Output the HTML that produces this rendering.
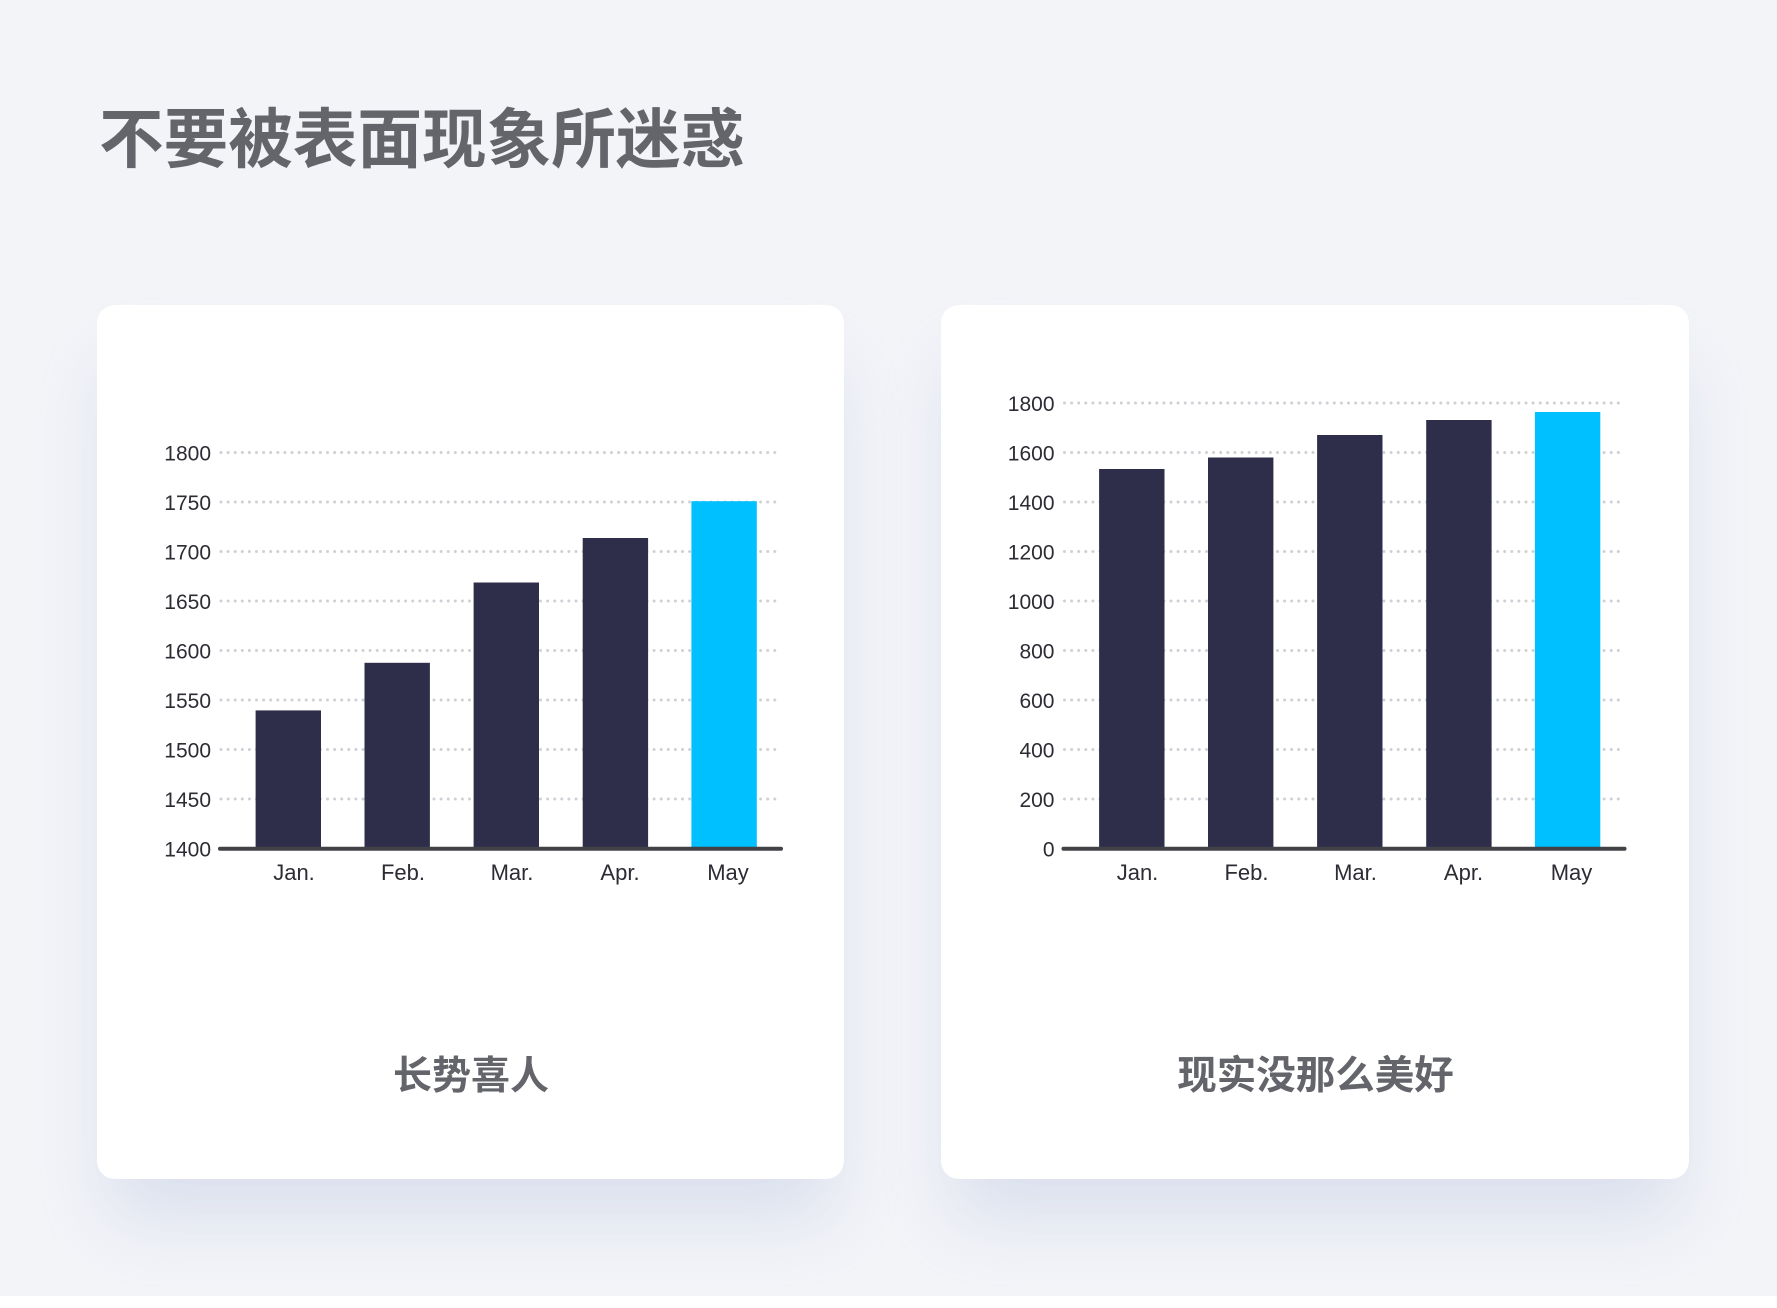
<!DOCTYPE html>
<html>
<head>
<meta charset="utf-8">
<style>
html,body{margin:0;padding:0;}
body{width:1777px;height:1308px;position:relative;overflow:hidden;background:#ffffff;}
.bg{position:absolute;left:0;top:0;width:1777px;height:1296px;background:#f3f4f8;}
.card{position:absolute;top:305px;height:874px;background:#ffffff;border-radius:18px;
box-shadow:0 50px 70px -12px rgba(205,212,232,0.65);}
svg{position:absolute;left:0;top:0;}
</style>
</head>
<body>
<div class="bg"></div>
<div class="card" style="left:97px;width:747px;"></div>
<div class="card" style="left:941px;width:748px;"></div>
<svg width="1777" height="1308" viewBox="0 0 1777 1308" xmlns="http://www.w3.org/2000/svg">
  <text x="99" y="162" font-family="'Liberation Sans','Noto Sans CJK SC',sans-serif" font-weight="bold" font-size="65" fill="#63656b" textLength="646" lengthAdjust="spacingAndGlyphs">不要被表面现象所迷惑</text>

  <!-- LEFT CHART -->
  <g stroke="#cfd0d5" stroke-width="3" stroke-linecap="round" stroke-dasharray="0 7.1">
    <line x1="221" y1="452.5" x2="781" y2="452.5"/>
    <line x1="221" y1="502" x2="781" y2="502"/>
    <line x1="221" y1="551.5" x2="781" y2="551.5"/>
    <line x1="221" y1="601" x2="781" y2="601"/>
    <line x1="221" y1="650.5" x2="781" y2="650.5"/>
    <line x1="221" y1="700" x2="781" y2="700"/>
    <line x1="221" y1="749.5" x2="781" y2="749.5"/>
    <line x1="221" y1="799" x2="781" y2="799"/>
  </g>
  <g fill="#2f2e4a">
    <rect x="255.6" y="710.4" width="65.4" height="138.6"/>
    <rect x="364.5" y="662.8" width="65.4" height="186.2"/>
    <rect x="473.6" y="582.5" width="65.4" height="266.5"/>
    <rect x="582.7" y="538" width="65.4" height="311"/>
  </g>
  <rect x="691.4" y="501.2" width="65.4" height="347.8" fill="#00c0ff"/>
  <line x1="220" y1="848.7" x2="781" y2="848.7" stroke="#434347" stroke-width="4" stroke-linecap="round"/>
  <g font-family="'Liberation Sans',sans-serif" font-size="21" fill="#2c2c34" text-anchor="end">
    <text x="211" y="460.5">1800</text>
    <text x="211" y="510">1750</text>
    <text x="211" y="559.5">1700</text>
    <text x="211" y="609">1650</text>
    <text x="211" y="658.5">1600</text>
    <text x="211" y="708">1550</text>
    <text x="211" y="757.5">1500</text>
    <text x="211" y="807">1450</text>
    <text x="211" y="856.5">1400</text>
  </g>
  <g font-family="'Liberation Sans',sans-serif" font-size="22" fill="#2c2c34" text-anchor="middle">
    <text x="294" y="880">Jan.</text>
    <text x="403" y="880">Feb.</text>
    <text x="512" y="880">Mar.</text>
    <text x="620" y="880">Apr.</text>
    <text x="728" y="880">May</text>
  </g>
  <text x="471" y="1089" text-anchor="middle" font-family="'Liberation Sans','Noto Sans CJK SC',sans-serif" font-weight="bold" font-size="39" fill="#63656b">长势喜人</text>

  <!-- RIGHT CHART -->
  <g stroke="#cfd0d5" stroke-width="3" stroke-linecap="round" stroke-dasharray="0 7.1">
    <line x1="1064.5" y1="403" x2="1624.5" y2="403"/>
    <line x1="1064.5" y1="452.5" x2="1624.5" y2="452.5"/>
    <line x1="1064.5" y1="502" x2="1624.5" y2="502"/>
    <line x1="1064.5" y1="551.5" x2="1624.5" y2="551.5"/>
    <line x1="1064.5" y1="601" x2="1624.5" y2="601"/>
    <line x1="1064.5" y1="650.5" x2="1624.5" y2="650.5"/>
    <line x1="1064.5" y1="700" x2="1624.5" y2="700"/>
    <line x1="1064.5" y1="749.5" x2="1624.5" y2="749.5"/>
    <line x1="1064.5" y1="799" x2="1624.5" y2="799"/>
  </g>
  <g fill="#2f2e4a">
    <rect x="1099.1" y="469" width="65.4" height="380"/>
    <rect x="1208" y="457.5" width="65.4" height="391.5"/>
    <rect x="1317.1" y="435" width="65.4" height="414"/>
    <rect x="1426.2" y="420" width="65.4" height="429"/>
  </g>
  <rect x="1534.9" y="412" width="65.4" height="437" fill="#00c0ff"/>
  <line x1="1063.5" y1="848.7" x2="1624.5" y2="848.7" stroke="#434347" stroke-width="4" stroke-linecap="round"/>
  <g font-family="'Liberation Sans',sans-serif" font-size="21" fill="#2c2c34" text-anchor="end">
    <text x="1054.5" y="411">1800</text>
    <text x="1054.5" y="460.5">1600</text>
    <text x="1054.5" y="510">1400</text>
    <text x="1054.5" y="559.5">1200</text>
    <text x="1054.5" y="609">1000</text>
    <text x="1054.5" y="658.5">800</text>
    <text x="1054.5" y="708">600</text>
    <text x="1054.5" y="757.5">400</text>
    <text x="1054.5" y="807">200</text>
    <text x="1054.5" y="856.5">0</text>
  </g>
  <g font-family="'Liberation Sans',sans-serif" font-size="22" fill="#2c2c34" text-anchor="middle">
    <text x="1137.5" y="880">Jan.</text>
    <text x="1246.5" y="880">Feb.</text>
    <text x="1355.5" y="880">Mar.</text>
    <text x="1463.5" y="880">Apr.</text>
    <text x="1571.5" y="880">May</text>
  </g>
  <text x="1315.5" y="1089" text-anchor="middle" font-family="'Liberation Sans','Noto Sans CJK SC',sans-serif" font-weight="bold" font-size="39.5" fill="#63656b">现实没那么美好</text>
</svg>
</body>
</html>
